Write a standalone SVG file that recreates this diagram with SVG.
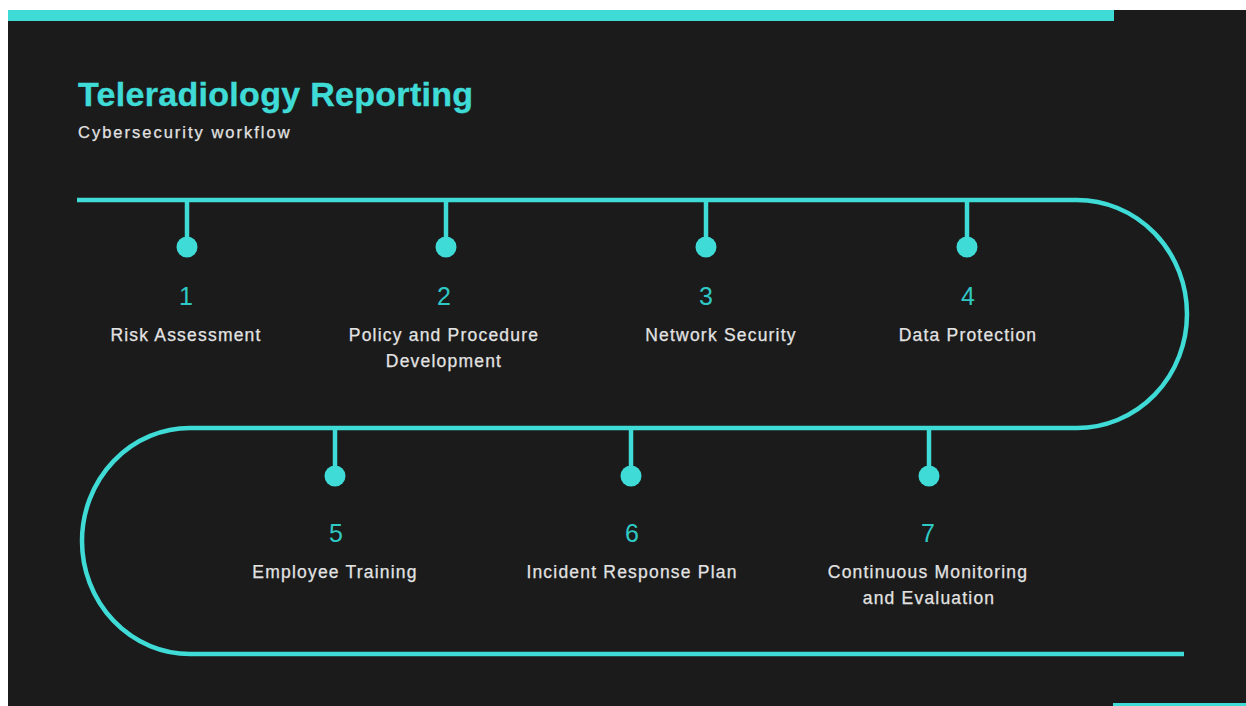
<svg xmlns="http://www.w3.org/2000/svg" width="1246" height="706" viewBox="0 0 1246 706">
  <style>
    .accent { fill: #3fdbd7; }
    .track { fill: none; stroke: #3fdbd7; stroke-width: 4.5; }
    .stem { stroke: #3fdbd7; stroke-width: 4.5; }
    .title { font-family: "Liberation Sans", Arial, sans-serif; font-weight: bold; font-size: 34px; fill: #3fdbd7; stroke: #3fdbd7; stroke-width: 0.4; letter-spacing: 0.3px; }
    .subtitle { font-family: "Liberation Sans", Arial, sans-serif; font-size: 16.5px; fill: #e2e2e2; stroke: #e2e2e2; stroke-width: 0.25; letter-spacing: 2px; }
    .num { font-family: "Liberation Sans", Arial, sans-serif; font-size: 25px; fill: #2fc9c5; text-anchor: middle; }
    .label { font-family: "Liberation Sans", Arial, sans-serif; font-size: 17.5px; fill: #e3e3e3; stroke: #e3e3e3; stroke-width: 0.25; text-anchor: middle; letter-spacing: 1.2px; }
  </style>

  <!-- page and dark panel -->
  <rect x="0" y="0" width="1246" height="706" fill="#ffffff"/>
  <rect x="8" y="10" width="1238" height="696" fill="#1b1b1b"/>
  <rect class="accent" x="8" y="10" width="1106" height="11"/>
  <rect class="accent" x="1113" y="703" width="133" height="3"/>

  <!-- heading -->
  <text class="title" x="78" y="106">Teleradiology Reporting</text>
  <text class="subtitle" x="78" y="138">Cybersecurity workflow</text>

  <!-- serpentine timeline -->
  <g id="connectors">
    <path class="track" d="M 77 200 H 1077 A 110 114 0 0 1 1077 428 H 190 A 108 113 0 0 0 190 654 H 1184"/>
  </g>

  <g id="step1">
    <line class="stem" x1="187" y1="200" x2="187" y2="247"/>
    <circle class="accent" cx="187" cy="247" r="10.5"/>
    <text class="num" x="186" y="305">1</text>
    <text class="label" x="186" y="341">Risk Assessment</text>
  </g>

  <g id="step2">
    <line class="stem" x1="446" y1="200" x2="446" y2="247"/>
    <circle class="accent" cx="446" cy="247" r="10.5"/>
    <text class="num" x="444" y="305">2</text>
    <text class="label" x="444" y="341">Policy and Procedure</text>
    <text class="label" x="444" y="367">Development</text>
  </g>

  <g id="step3">
    <line class="stem" x1="706" y1="200" x2="706" y2="247"/>
    <circle class="accent" cx="706" cy="247" r="10.5"/>
    <text class="num" x="706" y="305">3</text>
    <text class="label" x="721" y="341">Network Security</text>
  </g>

  <g id="step4">
    <line class="stem" x1="967" y1="200" x2="967" y2="247"/>
    <circle class="accent" cx="967" cy="247" r="10.5"/>
    <text class="num" x="968" y="305">4</text>
    <text class="label" x="968" y="341">Data Protection</text>
  </g>

  <g id="step5">
    <line class="stem" x1="335" y1="428" x2="335" y2="476"/>
    <circle class="accent" cx="335" cy="476" r="10.5"/>
    <text class="num" x="336" y="542">5</text>
    <text class="label" x="335" y="578">Employee Training</text>
  </g>

  <g id="step6">
    <line class="stem" x1="631" y1="428" x2="631" y2="476"/>
    <circle class="accent" cx="631" cy="476" r="10.5"/>
    <text class="num" x="632" y="542">6</text>
    <text class="label" x="632" y="578">Incident Response Plan</text>
  </g>

  <g id="step7">
    <line class="stem" x1="929" y1="428" x2="929" y2="476"/>
    <circle class="accent" cx="929" cy="476" r="10.5"/>
    <text class="num" x="928" y="542">7</text>
    <text class="label" x="928" y="578">Continuous Monitoring</text>
    <text class="label" x="929" y="604">and Evaluation</text>
  </g>
</svg>
